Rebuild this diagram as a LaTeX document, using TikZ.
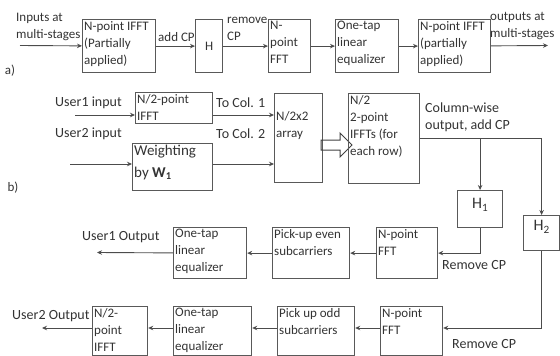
\documentclass[tikz,border=0pt]{standalone}
\usepackage{fontspec}
\setmainfont{Carlito}
\usetikzlibrary{arrows.meta, positioning, shapes.arrows}

\begin{document}
\begin{tikzpicture}[x=1pt, y=-1pt, >={Stealth[length=5pt,width=4.5pt]},
    every node/.style={font=\fontsize{13}{17}\selectfont, text=black!80},
    blk/.style={draw=black!65, line width=1.2pt, anchor=north west, inner sep=0pt},
    txt/.style={anchor=north west, align=left, inner sep=2pt},
    lbl/.style={anchor=west, align=left, inner sep=0pt},
    big/.style={font=\fontsize{14}{17}\selectfont},
    wire/.style={draw=black!70, line width=0.9pt, ->}]
    \useasboundingbox (0,0) rectangle (560,356);

    % a) single user chain
    \node[blk, minimum width=73, minimum height=53] (ifftA) at (82,19) {};
    \node[txt] (ifftAt) at (ifftA.north west) {N-point IFFT\\(Partially\\applied)};
    \node[blk, minimum width=27, minimum height=53] (chan) at (195,19) {};
    \node (chant) at (chan.center) {H};
    \node[blk, minimum width=42, minimum height=53] (fftA) at (268,19) {};
    \node[txt] (fftAt) at (fftA.north west) {N-\\point\\FFT};
    \node[blk, minimum width=63, minimum height=53] (eqA) at (335,19) {};
    \node[txt] (eqAt) at (eqA.north west) {One-tap\\linear\\equalizer};
    \node[blk, minimum width=72, minimum height=53] (ifftB) at (418,19) {};
    \node[txt] (ifftBt) at (ifftB.north west) {N-point IFFT\\(partially\\applied)};

    \coordinate (inA) at (20,45.5);
    \coordinate (outA) at (548,45.5);
    \draw[wire] (inA) -- (ifftA);
    \draw[wire] (ifftA) -- (chan);
    \draw[wire] (chan) -- (fftA);
    \draw[wire] (fftA) -- (eqA);
    \draw[wire] (eqA) -- (ifftB);
    \draw[wire] (ifftB) -- (outA);

    \node[lbl] (inAl) at (16,27) {Inputs at\\multi-stages};
    \node[lbl] (addcp) at (158,37) {add CP};
    \node[lbl] (remcp) at (227,29) {remove\\CP};
    \node[lbl] (outAl) at (490,26) {outputs at\\multi-stages};
    \node (la) at (10,71) {a)};

    % b) two users
    \node[blk, minimum width=77, minimum height=31] (ifftU) at (135,92) {};
    \node[txt] (ifftUt) at (ifftU.north west) {N/2-point\\IFFT};
    \node[blk, minimum width=80, minimum height=47] (wgt) at (132,143) {};
    \node[txt, font=\fontsize{15}{22}\selectfont] (wgtt) at (wgt.north west) {Weighting\\by \textbf{W}\textsubscript{\textbf{1}}};
    \node[blk, minimum width=48, minimum height=89] (arr) at (274,93) {};
    \node[txt] (arrt) at ([yshift=-16]arr.north west) {N/2x2\\array};
    \node[single arrow, draw=black!75, line width=1pt, minimum height=31, inner sep=4.5pt,
        single arrow head extend=7pt, single arrow head indent=0pt] (fat) at (334,145) {};
    \node[blk, minimum width=71, minimum height=90] (rows) at (348,93) {};
    \node[txt] (rowst) at (rows.north west) {N/2\\2-point\\IFFTs (for\\each row)};

    \coordinate (u1) at (75,115);
    \coordinate (u2) at (70,164);
    \draw[wire] (u1) -- (u1 -| ifftU.west);
    \draw[wire] (u1 -| ifftU.east) -- (u1 -| arr.west);
    \draw[wire] (u2) -- (u2 -| wgt.west);
    \draw[wire] (u2 -| wgt.east) -- (u2 -| arr.west);

    \node[lbl, big] (u1l) at (55,103) {User1 input};
    \node[lbl, big] (u2l) at (55,134) {User2 input};
    \node[lbl, big] (col1) at (216,103) {To Col. 1};
    \node[lbl, big] (col2) at (216,134) {To Col. 2};
    \node (lb) at (13,188) {b)};
    \node[lbl, big] (colw) at (425,117) {Column-wise\\output, add CP};

    \node[blk, minimum width=45, minimum height=37] (hone) at (457,190) {};
    \node[font=\fontsize{16}{18}\selectfont] (honet) at ([yshift=-15]hone.north) {H\textsubscript{1}};
    \node[blk, minimum width=36, minimum height=35] (htwo) at (523,215) {};
    \node[font=\fontsize{16}{18}\selectfont] (htwot) at ([yshift=-12]htwo.north) {H\textsubscript{2}};

    \draw[wire] (rows.east) -| (htwo.north);
    \draw[wire] (rows.east -| hone.north) -- (hone.north);

    % user 1 receiver
    \node[blk, minimum width=61, minimum height=51] (fftE) at (376,227) {};
    \node[txt] (fftEt) at (fftE.north west) {N-point\\FFT};
    \node[blk, minimum width=77, minimum height=51] (even) at (272,227) {};
    \node[txt] (event) at (even.north west) {Pick-up even\\subcarriers};
    \node[blk, minimum width=73, minimum height=51] (eqE) at (173,227) {};
    \node[txt] (eqEt) at (eqE.north west) {One-tap\\linear\\equalizer};

    \coordinate (o1) at (97,252.5);
    \draw[wire] (hone.south) |- (fftE.east);
    \draw[wire] (fftE) -- (even);
    \draw[wire] (even) -- (eqE);
    \draw[wire] (eqE) -- (o1);
    \node[lbl, big] (o1l) at (82,237) {User1 Output};
    \node[lbl, big] (rc1) at (442,265) {Remove CP};

    % user 2 receiver
    \node[blk, minimum width=62, minimum height=49] (fftO) at (380,306) {};
    \node[txt] (fftOt) at (fftO.north west) {N-point\\FFT};
    \node[blk, minimum width=77, minimum height=49] (odd) at (277,306) {};
    \node[txt] (oddt) at (odd.north west) {Pick up odd\\subcarriers};
    \node[blk, minimum width=78, minimum height=49] (eqO) at (173,306) {};
    \node[txt] (eqOt) at (eqO.north west) {One-tap\\linear\\equalizer};
    \node[blk, minimum width=55, minimum height=49] (ifftV) at (92,306) {};
    \node[txt] (ifftVt) at (ifftV.north west) {N/2-\\point\\IFFT};

    \coordinate (r2) at (0,328);
    \coordinate (o2) at (42,328);
    \draw[wire] (htwo.south) |- (r2 -| fftO.east);
    \draw[wire] (r2 -| fftO.west) -- (r2 -| odd.east);
    \draw[wire] (r2 -| odd.west) -- (r2 -| eqO.east);
    \draw[wire] (r2 -| eqO.west) -- (r2 -| ifftV.east);
    \draw[wire] (r2 -| ifftV.west) -- (o2);
    \node[lbl, big] (o2l) at (12,316) {User2 Output};
    \node[lbl, big] (rc2) at (452,344) {Remove CP};
\end{tikzpicture}
\end{document}
